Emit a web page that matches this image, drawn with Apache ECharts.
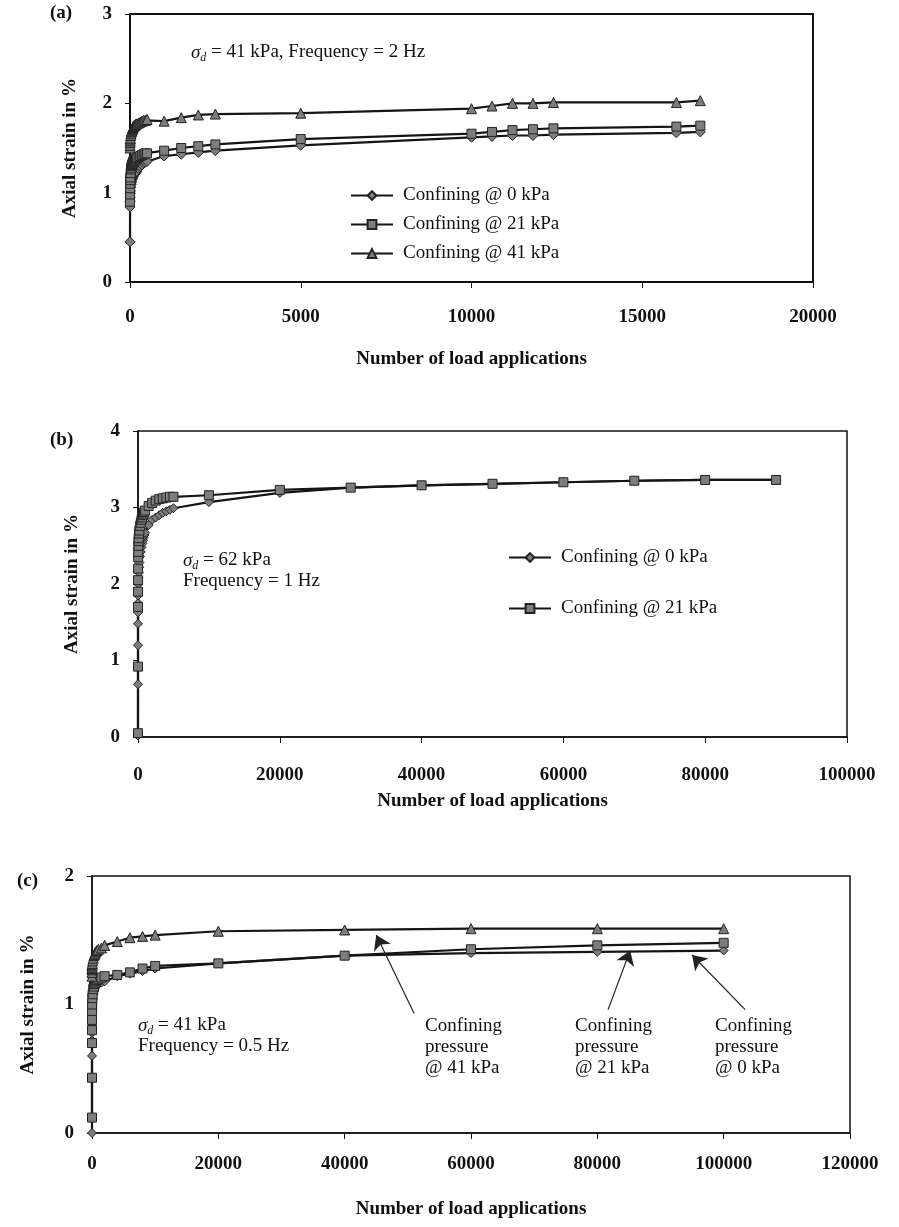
<!DOCTYPE html>
<html>
<head>
<meta charset="utf-8">
<script src="https://cdn.jsdelivr.net/npm/echarts@6/dist/echarts.min.js"></script>
<style>html,body{margin:0;padding:0;background:#fff;}#chart{width:899px;height:1227px;}</style>
</head>
<body>
<div id="chart"></div>
<script>
// ---------- Panel (a): sigma_d = 41 kPa, 2 Hz ----------
const A_N = [0, 2, 4, 6, 8, 10, 20, 30, 40, 50, 60, 70, 80, 90, 100, 120, 140, 160, 180, 200, 250, 300, 350, 400, 450, 500, 1000, 1500, 2000, 2500, 5000, 10000, 10600, 11200, 11800, 12400, 16000, 16700];
const A_0kPa  = [0.45, 0.84, 0.90, 0.95, 0.99, 1.02, 1.06, 1.09, 1.11, 1.13, 1.15, 1.16, 1.17, 1.18, 1.19, 1.20, 1.21, 1.22, 1.23, 1.24, 1.27, 1.29, 1.31, 1.33, 1.34, 1.35, 1.41, 1.43, 1.45, 1.47, 1.53, 1.62, 1.63, 1.64, 1.64, 1.65, 1.67, 1.68];
const A_21kPa = [0.90, 0.98, 1.05, 1.10, 1.14, 1.17, 1.22, 1.26, 1.28, 1.30, 1.31, 1.32, 1.33, 1.34, 1.35, 1.36, 1.36, 1.37, 1.38, 1.39, 1.40, 1.41, 1.42, 1.43, 1.44, 1.44, 1.47, 1.50, 1.52, 1.54, 1.60, 1.66, 1.68, 1.70, 1.71, 1.72, 1.74, 1.75];
const A_41kPa = [1.50, 1.53, 1.56, 1.58, 1.60, 1.61, 1.64, 1.66, 1.68, 1.69, 1.70, 1.71, 1.72, 1.73, 1.74, 1.75, 1.75, 1.76, 1.77, 1.77, 1.78, 1.79, 1.80, 1.81, 1.81, 1.82, 1.80, 1.84, 1.87, 1.88, 1.89, 1.94, 1.97, 2.00, 2.00, 2.01, 2.01, 2.03];

// ---------- Panel (b): sigma_d = 62 kPa, 1 Hz ----------
const B_N = [0, 1, 2, 3, 5, 10, 20, 30, 50, 75, 100, 150, 200, 300, 400, 500, 600, 700, 800, 900, 1000, 1500, 2000, 2500, 3000, 3500, 4000, 4500, 5000, 10000, 20000, 30000, 40000, 50000, 60000, 70000, 80000, 90000];
const B_0kPa  = [0.02, 0.69, 1.20, 1.48, 1.63, 1.75, 1.85, 1.92, 2.00, 2.08, 2.15, 2.22, 2.28, 2.36, 2.42, 2.48, 2.53, 2.57, 2.61, 2.64, 2.67, 2.77, 2.84, 2.87, 2.90, 2.93, 2.95, 2.97, 2.99, 3.07, 3.19, 3.26, 3.29, 3.31, 3.33, 3.35, 3.36, 3.36];
const B_21kPa = [0.05, 0.92, 1.70, 1.90, 2.05, 2.20, 2.35, 2.42, 2.50, 2.56, 2.60, 2.66, 2.70, 2.76, 2.80, 2.84, 2.87, 2.90, 2.92, 2.94, 2.96, 3.02, 3.06, 3.09, 3.11, 3.12, 3.13, 3.14, 3.14, 3.16, 3.23, 3.26, 3.29, 3.31, 3.33, 3.35, 3.36, 3.36];

// ---------- Panel (c): sigma_d = 41 kPa, 0.5 Hz ----------
const C_N = [0, 1, 2, 3, 5, 10, 20, 50, 100, 200, 300, 400, 500, 600, 800, 1000, 1500, 2000, 4000, 6000, 8000, 10000, 20000, 40000, 60000, 80000, 100000];
const C_0kPa  = [0.00, 0.60, 0.72, 0.78, 0.84, 0.90, 0.95, 1.00, 1.04, 1.08, 1.10, 1.12, 1.13, 1.14, 1.15, 1.16, 1.17, 1.18, 1.22, 1.24, 1.26, 1.28, 1.32, 1.38, 1.40, 1.41, 1.42];
const C_21kPa = [0.12, 0.43, 0.70, 0.80, 0.88, 0.95, 1.00, 1.05, 1.08, 1.12, 1.14, 1.16, 1.17, 1.18, 1.19, 1.20, 1.21, 1.22, 1.23, 1.25, 1.28, 1.30, 1.32, 1.38, 1.43, 1.46, 1.48];
const C_41kPa = [1.22, 1.25, 1.27, 1.28, 1.29, 1.30, 1.31, 1.32, 1.34, 1.36, 1.38, 1.39, 1.40, 1.41, 1.42, 1.43, 1.44, 1.46, 1.49, 1.52, 1.53, 1.54, 1.57, 1.58, 1.59, 1.59, 1.59];

// Arrow annotations in panel (c): [fromN, fromStrain, toN, toStrain]
const C_ARROWS = [
  [51000, 0.93, 45000, 1.54],
  [81700, 0.96, 85200, 1.42],
  [103400, 0.96, 95000, 1.385]
];

const NAMES = ['Confining @ 0 kPa', 'Confining @ 21 kPa', 'Confining @ 41 kPa'];
const X_MAX = [20000, 100000, 120000];
const X_INT = [5000, 20000, 20000];
const Y_MAX = [3, 4, 2];

const FONT = '"Liberation Serif", "Times New Roman", serif';
const INK = '#111';

function zip(xs, ys) { return xs.map((x, i) => [x, ys[i]]); }

function mkX(idx, margin, nameGap) {
  return {
    type: 'value', gridIndex: idx, min: 0, max: X_MAX[idx], interval: X_INT[idx],
    name: 'Number of load applications', nameLocation: 'middle', nameGap: nameGap,
    nameTextStyle: { fontFamily: FONT, fontSize: 19, fontWeight: 'bold', color: INK },
    axisLine: { show: true, onZero: false, lineStyle: { color: INK, width: 1.5 } },
    axisTick: { show: true, inside: false, length: 6, lineStyle: { color: INK, width: 1 } },
    axisLabel: { fontFamily: FONT, fontSize: 19, fontWeight: 'bold', color: INK, margin: margin,
                 formatter: v => String(v) },
    splitLine: { show: false }
  };
}
function mkY(idx, nameGap) {
  return {
    type: 'value', gridIndex: idx, min: 0, max: Y_MAX[idx], interval: 1,
    name: 'Axial strain in %', nameLocation: 'middle', nameGap: nameGap,
    nameTextStyle: { fontFamily: FONT, fontSize: 19, fontWeight: 'bold', color: INK },
    axisLine: { show: true, onZero: false, lineStyle: { color: INK, width: 1.5 } },
    axisTick: { show: true, inside: false, length: 5, lineStyle: { color: INK, width: 1 } },
    axisLabel: { fontFamily: FONT, fontSize: 19, fontWeight: 'bold', color: INK, margin: 18 },
    splitLine: { show: false }
  };
}
function mkS(name, idx, xs, ys, symbol, size) {
  return {
    name: name, type: 'line', xAxisIndex: idx, yAxisIndex: idx,
    data: zip(xs, ys), symbol: symbol, symbolSize: size, showAllSymbol: true,
    lineStyle: { color: '#151515', width: 2.2 },
    itemStyle: { color: '#7d7d7d', borderColor: '#222', borderWidth: 1 },
    emphasis: { disabled: true }, animation: false
  };
}

const sigmaRich = {
  s: { fontFamily: FONT, fontSize: 19, fontStyle: 'italic', fill: INK, lineHeight: 22 },
  d: { fontFamily: FONT, fontSize: 12, fontStyle: 'italic', fill: INK, lineHeight: 14, verticalAlign: 'bottom', padding: [8, 0, 0, 0] },
  t: { fontFamily: FONT, fontSize: 19, fill: INK, lineHeight: 22 }
};
function txt(left, top, text, font) {
  return { type: 'text', left: left, top: top, style: { text: text, font: font || ('19px ' + FONT), fill: INK } };
}
function multi(left, top, text) {
  return { type: 'text', left: left, top: top, style: { text: text, font: '19px ' + FONT, fill: INK, lineHeight: 21 } };
}

const seriesC41 = mkS(NAMES[2], 2, C_N, C_41kPa, 'triangle', 10);
seriesC41.markLine = {
  silent: true, symbol: ['none', 'arrow'], symbolSize: 14, animation: false,
  label: { show: false },
  lineStyle: { color: '#222', width: 1.2, type: 'solid' },
  data: C_ARROWS.map(a => [{ coord: [a[0], a[1]] }, { coord: [a[2], a[3]] }])
};

const option = {
  backgroundColor: '#fff',
  animation: false,
  grid: [
    { left: 130, top: 14, width: 683, height: 268, show: true, borderColor: INK, borderWidth: 2, backgroundColor: 'transparent' },
    { left: 138, top: 431, width: 709, height: 306, show: true, borderColor: INK, borderWidth: 1.5, backgroundColor: 'transparent' },
    { left: 92, top: 876, width: 758, height: 257, show: true, borderColor: INK, borderWidth: 1.5, backgroundColor: 'transparent' }
  ],
  xAxis: [mkX(0, 26, 68), mkX(1, 29, 55), mkX(2, 22, 67)],
  yAxis: [mkY(0, 50), mkY(1, 56), mkY(2, 54)],
  legend: [
    { data: NAMES, orient: 'vertical', left: 345, top: 181, itemWidth: 42, itemHeight: 11, itemGap: 10,
      selectedMode: false, textStyle: { fontFamily: FONT, fontSize: 19, color: INK, padding: [0, 0, 0, 5] } },
    { data: NAMES.slice(0, 2), orient: 'vertical', left: 503, top: 543, itemWidth: 42, itemHeight: 11, itemGap: 32,
      selectedMode: false, textStyle: { fontFamily: FONT, fontSize: 19, color: INK, padding: [0, 0, 0, 5] } }
  ],
  series: [
    mkS(NAMES[0], 0, A_N, A_0kPa, 'diamond', 10),
    mkS(NAMES[1], 0, A_N, A_21kPa, 'rect', 9),
    mkS(NAMES[2], 0, A_N, A_41kPa, 'triangle', 10),
    mkS(NAMES[0], 1, B_N, B_0kPa, 'diamond', 9),
    mkS(NAMES[1], 1, B_N, B_21kPa, 'rect', 9),
    mkS(NAMES[0], 2, C_N, C_0kPa, 'diamond', 9),
    mkS(NAMES[1], 2, C_N, C_21kPa, 'rect', 9),
    seriesC41
  ],
  graphic: [
    txt(50, 4, '(a)', 'bold 19px ' + FONT),
    txt(50, 431, '(b)', 'bold 19px ' + FONT),
    txt(17, 872, '(c)', 'bold 19px ' + FONT),
    { type: 'text', left: 191, top: 43, style: { text: '{s|σ}{d|d}{t| = 41 kPa, Frequency = 2 Hz}', rich: sigmaRich } },
    { type: 'text', left: 183, top: 551, style: { text: '{s|σ}{d|d}{t| = 62 kPa}', rich: sigmaRich } },
    txt(183, 572, 'Frequency = 1 Hz'),
    { type: 'text', left: 138, top: 1016, style: { text: '{s|σ}{d|d}{t| = 41 kPa}', rich: sigmaRich } },
    txt(138, 1037, 'Frequency = 0.5 Hz'),
    multi(425, 1016, 'Confining\npressure\n@ 41 kPa'),
    multi(575, 1016, 'Confining\npressure\n@ 21 kPa'),
    multi(715, 1016, 'Confining\npressure\n@ 0 kPa')
  ]
};

const chart = echarts.init(document.getElementById('chart'), null, { renderer: 'canvas' });
chart.setOption(option);
</script>
</body>
</html>
